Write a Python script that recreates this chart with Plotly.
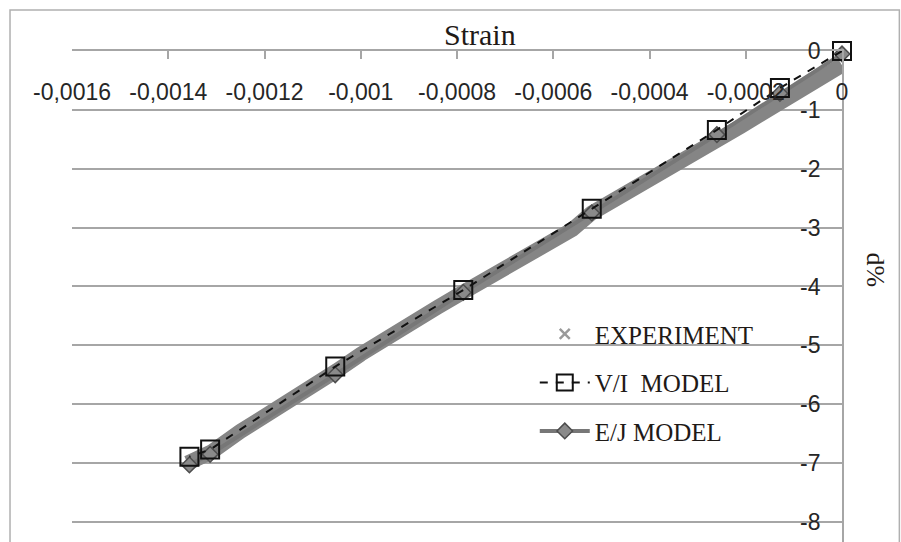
import plotly.graph_objects as go

# ---- data (strain, d%) ----
exp_strain = [0, -0.00003, -0.00007, -0.00010, -0.00013, -0.00017, -0.00021, -0.00026,
              -0.00030, -0.00035, -0.00040, -0.00045, -0.00049, -0.00052, -0.00056,
              -0.00060, -0.00064, -0.00068, -0.00073, -0.00079, -0.00084, -0.00090,
              -0.00095, -0.00100, -0.00105, -0.00110, -0.00115, -0.00120, -0.00125,
              -0.00131, -0.00136]
exp_d = [-0.24, -0.40, -0.60, -0.74, -0.88, -1.08, -1.28, -1.52, -1.72, -1.95, -2.17,
         -2.41, -2.61, -2.75, -3.03, -3.23, -3.39, -3.57, -3.81, -4.11, -4.35, -4.63,
         -4.89, -5.15, -5.43, -5.67, -5.93, -6.21, -6.46, -6.81, -7.00]

vi_strain = [0, -0.000129, -0.00026, -0.00052, -0.000787, -0.001053, -0.001313, -0.001356]
vi_d = [0, -0.63, -1.34, -2.68, -4.06, -5.36, -6.77, -6.89]

ej_strain = [0, -0.000129, -0.00026, -0.00052, -0.000787, -0.001053, -0.001313, -0.001356]
ej_d = [-0.05, -0.72, -1.42, -2.75, -4.10, -5.50, -6.85, -7.03]

x_ticks = [-0.0016, -0.0014, -0.0012, -0.001, -0.0008, -0.0006, -0.0004, -0.0002, 0]
x_ticktext = ["-0,0016", "-0,0014", "-0,0012", "-0,001", "-0,0008", "-0,0006",
              "-0,0004", "-0,0002", "0"]
y_ticks = [0, -1, -2, -3, -4, -5, -6, -7, -8]
y_ticktext = ["0", "-1", "-2", "-3", "-4", "-5", "-6", "-7", "-8"]

X_RANGE = [-0.0016, 0]
Y_RANGE = [-8.34, 0]

SERIF = "Liberation Serif"
SANS = "Liberation Sans"
GRID = "#a6a6a6"
TXT = "#262626"

fig = go.Figure()

# experiment band (dense x markers look like a thick band)
fig.add_trace(go.Scatter(
    x=exp_strain, y=exp_d, mode="lines",
    line=dict(color="#858585", width=15),
    showlegend=False, cliponaxis=False, hoverinfo="skip"))
# legend-only entry for experiment
fig.add_trace(go.Scatter(
    x=[None], y=[None], mode="markers", name="EXPERIMENT",
    marker=dict(symbol="x-thin", size=10, line=dict(color="#9a9a9a", width=2.5)),
    legendgroup="a", legendrank=1))

fig.add_trace(go.Scatter(
    x=ej_strain, y=ej_d, mode="lines+markers", name="E/J MODEL",
    line=dict(color="#777777", width=4),
    marker=dict(symbol="diamond", size=12, color="#8a8a8a",
                line=dict(color="#4d4d4d", width=1.5)),
    legendgroup="c", legendrank=3, cliponaxis=False))

fig.add_trace(go.Scatter(
    x=vi_strain, y=vi_d, mode="lines+markers", name="V/I\u00a0 MODEL",
    line=dict(color="#111111", width=2, dash="8px,8px"),
    marker=dict(symbol="square-open", size=18, color="#111111",
                line=dict(color="#111111", width=2)),
    legendgroup="b", legendrank=2, cliponaxis=False))

# invisible trace so the label axes are drawn
fig.add_trace(go.Scatter(x=[None], y=[None], xaxis="x2", yaxis="y2",
                         showlegend=False, hoverinfo="skip"))

fig.update_layout(
    width=901, height=542,
    margin=dict(l=72, r=59, t=51, b=0),
    paper_bgcolor="white", plot_bgcolor="white",
    showlegend=True,
    legend=dict(x=0.601, y=0.470, xanchor="left", yanchor="top",
                font=dict(family=SERIF, size=25, color="#1f1a17"),
                bgcolor="rgba(0,0,0,0)", tracegroupgap=13, itemwidth=50,
                traceorder="grouped"),
    xaxis=dict(range=X_RANGE, side="top", tickvals=x_ticks, showticklabels=False,
               showgrid=False, zeroline=False, showline=True, linecolor=GRID,
               linewidth=1.5, ticks="inside", ticklen=8, tickcolor=GRID, tickwidth=1.5),
    yaxis=dict(range=Y_RANGE, side="right", tickvals=y_ticks, showticklabels=False,
               showgrid=True, gridcolor=GRID, gridwidth=1.5, zeroline=False,
               showline=True, linecolor=GRID, linewidth=1.5, ticks=""),
    xaxis2=dict(range=X_RANGE, overlaying="x", side="bottom", anchor="free",
                position=0.950, tickvals=x_ticks, ticktext=x_ticktext,
                showgrid=False, zeroline=False, showline=False, ticks="",
                tickfont=dict(family=SANS, size=23, color=TXT)),
    yaxis2=dict(range=Y_RANGE, overlaying="y", side="left", anchor="free",
                position=0.972, tickvals=y_ticks, ticktext=y_ticktext,
                showgrid=False, zeroline=False, showline=False, ticks="",
                tickfont=dict(family=SANS, size=23, color=TXT)),
    annotations=[
        dict(text="Strain", xref="paper", yref="paper", x=0.53, y=1.033,
             xanchor="center", yanchor="middle", showarrow=False,
             font=dict(family=SERIF, size=30, color="#1f1a17")),
        dict(text="d%", xref="paper", yref="paper", x=1.043, y=0.555,
             xanchor="center", yanchor="middle", showarrow=False, textangle=90,
             font=dict(family=SERIF, size=26, color="#1f1a17")),
    ],
    shapes=[dict(type="rect", xref="paper", yref="paper",
                 x0=-0.0805, x1=1.0745, y0=-0.1, y1=1.0835,
                 line=dict(color="#b0b0b0", width=1.5), layer="below")],
)

fig.write_html("out.html")
